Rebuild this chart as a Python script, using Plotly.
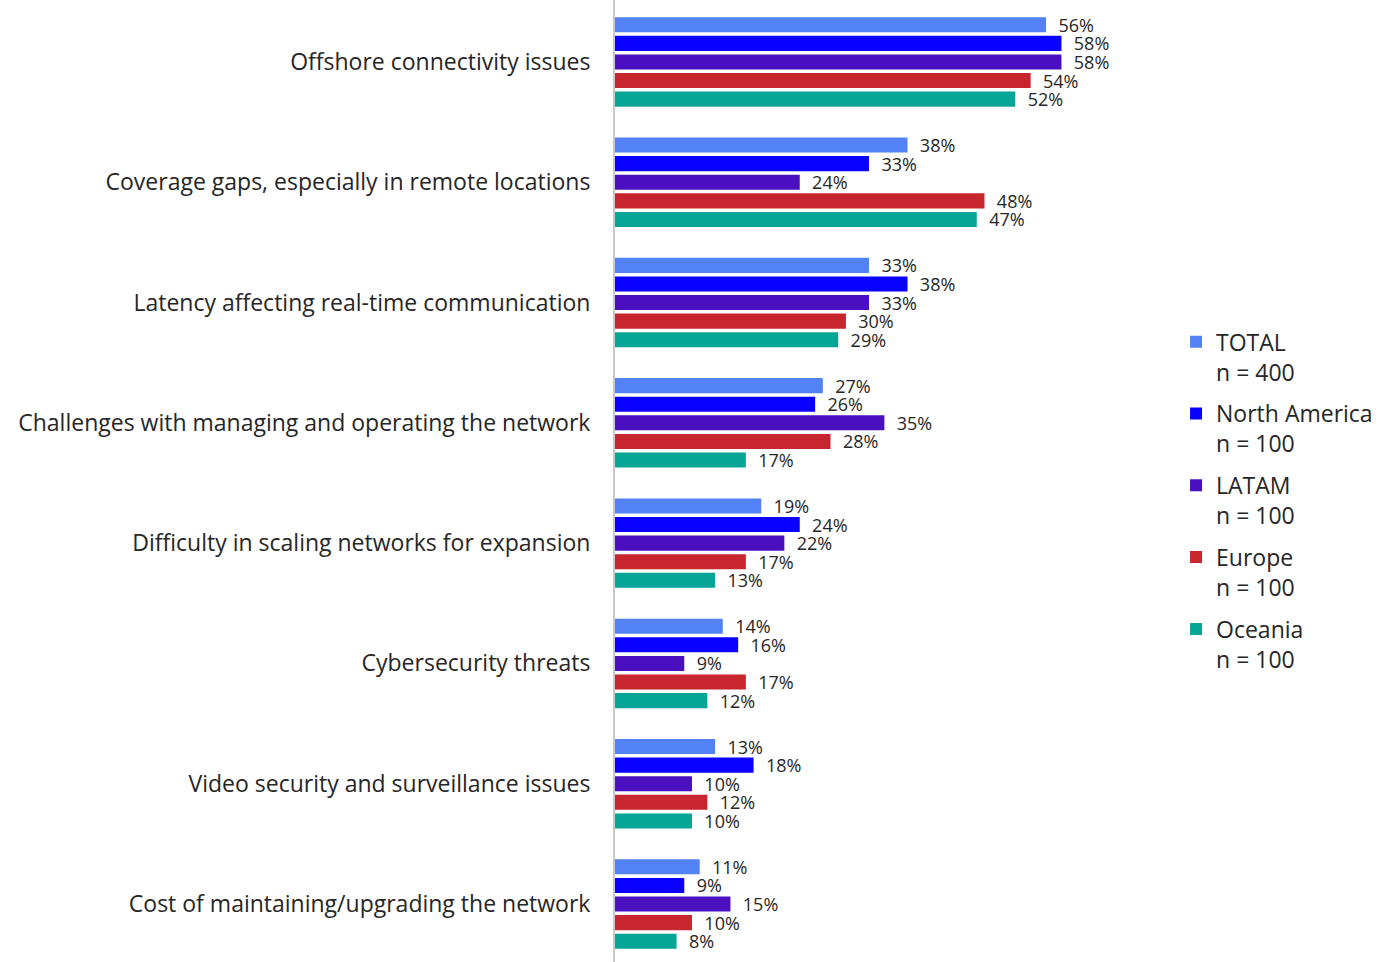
import plotly.graph_objects as go

categories = [
    "Offshore connectivity issues",
    "Coverage gaps, especially in remote locations",
    "Latency affecting real-time communication",
    "Challenges with managing and operating the network",
    "Difficulty in scaling networks for expansion",
    "Cybersecurity threats",
    "Video security and surveillance issues",
    "Cost of maintaining/upgrading the network",
]

series_names = ["TOTAL", "North America", "LATAM", "Europe", "Oceania"]
series_bases = ["n = 400", "n = 100", "n = 100", "n = 100", "n = 100"]

total = [56, 38, 33, 27, 19, 14, 13, 11]
north_america = [58, 33, 38, 26, 24, 16, 18, 9]
latam = [58, 24, 33, 35, 22, 9, 10, 15]
europe = [54, 48, 30, 28, 17, 17, 12, 10]
oceania = [52, 47, 29, 17, 13, 12, 10, 8]

series_values = [total, north_america, latam, europe, oceania]
colors = ["#5282F5", "#0A00FF", "#4A10C0", "#C8262E", "#07A596"]

FONT = "Open Sans"
TEXT_COLOR = "#262626"

fig = go.Figure()
for name, base, vals, color in zip(series_names, series_bases, series_values, colors):
    fig.add_trace(go.Bar(
        y=categories,
        x=vals,
        orientation="h",
        name=f"{name}<br>{base}",
        legendgroup=name,
        marker=dict(color=color, line=dict(width=0)),
        text=[f"\u00a0\u00a0{v}%" for v in vals],
        textposition="outside",
        textfont=dict(family=FONT, size=18, color=TEXT_COLOR),
        constraintext="none",
        cliponaxis=False,
        hoverinfo="skip",
    ))

fig.update_layout(
    width=1388,
    height=962,
    margin=dict(l=615, r=208, t=0, b=0),
    paper_bgcolor="white",
    plot_bgcolor="white",
    barmode="group",
    bargap=0.227,
    bargroupgap=0.19,
    font=dict(family=FONT, color=TEXT_COLOR),
    showlegend=True,
    legend=dict(
        x=0.993,
        xanchor="left",
        y=0.48,
        yanchor="middle",
        valign="top",
        font=dict(family=FONT, size=23, color=TEXT_COLOR),
        tracegroupgap=9,
        itemwidth=30,
        bgcolor="rgba(0,0,0,0)",
    ),
    xaxis=dict(
        range=[0, 73.4],
        showgrid=False,
        zeroline=False,
        showticklabels=False,
        showline=False,
    ),
    yaxis=dict(
        range=[7.482, -0.515],
        showgrid=False,
        zeroline=False,
        showline=True,
        linecolor="#C8C8C8",
        linewidth=2,
        ticks="",
        ticklabelstandoff=18,
        tickfont=dict(family=FONT, size=23, color=TEXT_COLOR),
    ),
)

fig.write_html("out.html")
